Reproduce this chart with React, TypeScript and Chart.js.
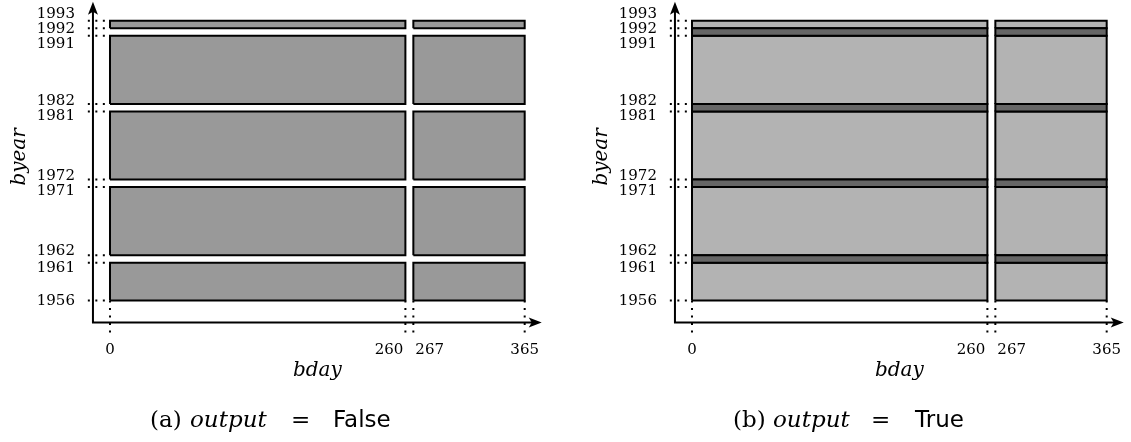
import React, { useEffect, useRef } from "react";
import { Chart, registerables } from "chart.js";

Chart.register(...registerables);

// ---------- data ----------
const xSegments: [number, number][] = [
  [0, 260],
  [267, 365],
];
const xTickValues = [0, 260, 267, 365];
const xTickLabels = ["0", "260", "267", "365"];
const yTickValues = [1956, 1961, 1962, 1971, 1972, 1981, 1982, 1991, 1992, 1993];
const yTickLabels = ["1956", "1961", "1962", "1971", "1972", "1981", "1982", "1991", "1992", "1993"];

// output = False: separate boxes
const bandsFalse: [number, number][] = [
  [1956, 1961],
  [1962, 1971],
  [1972, 1981],
  [1982, 1991],
  [1992, 1993],
];
// output = True: contiguous light boxes with dark strips in between
const bandsTrueLight: [number, number][] = [
  [1956, 1961],
  [1962, 1971],
  [1972, 1981],
  [1982, 1991],
  [1992, 1993],
];
const bandsTrueDark: [number, number][] = [
  [1961, 1962],
  [1971, 1972],
  [1981, 1982],
  [1991, 1992],
];

// ---------- presentation ----------
const yLabelNudge = [1, 5, -4, 4, -3, 5, -3, 8, 1, -7];
const xLabelAlign: CanvasTextAlign[] = ["center", "right", "left", "center"];
const xLabelShift = [0, -2, 2, 0];
const AXIS_ORIGIN_X = -15;
const AXIS_ORIGIN_Y = 1953.1;
const AXIS_END_X = 380;
const AXIS_END_Y = 1995.5;
const TICK_LINE_START_X = -19.5;
const TICK_LINE_END_Y = 1951.6;
const Y_TITLE_CENTER = 1975;

const rect = (x0: number, x1: number, y0: number, y1: number) => [
  { x: x0, y: y0 },
  { x: x1, y: y0 },
  { x: x1, y: y1 },
  { x: x0, y: y1 },
  { x: x0, y: y0 },
];

const boxDataset = (data: any[], color: string) => ({
  data,
  showLine: true,
  fill: "shape",
  backgroundColor: color,
  borderColor: "#000",
  borderWidth: 2,
  borderJoinStyle: "miter",
  pointRadius: 0,
  tension: 0,
});

const dotted = (data: any[]) => ({
  data,
  showLine: true,
  fill: false,
  borderColor: "#000",
  borderWidth: 2,
  borderDash: [2, 5.5],
  pointRadius: 0,
  tension: 0,
});

function buildDatasets(variant: "false" | "true") {
  const ds: any[] = [];
  if (variant === "false") {
    bandsFalse.forEach(([y0, y1]) =>
      xSegments.forEach(([x0, x1]) => ds.push(boxDataset(rect(x0, x1, y0, y1), "#999999")))
    );
  } else {
    bandsTrueDark.forEach(([y0, y1]) =>
      xSegments.forEach(([x0, x1]) => ds.push(boxDataset(rect(x0, x1, y0, y1), "#666666")))
    );
    bandsTrueLight.forEach(([y0, y1]) =>
      xSegments.forEach(([x0, x1]) => ds.push(boxDataset(rect(x0, x1, y0, y1), "#b3b3b3")))
    );
  }
  yTickValues.forEach((v) =>
    ds.push(
      dotted([
        { x: TICK_LINE_START_X, y: v },
        { x: 0, y: v },
      ])
    )
  );
  xTickValues.forEach((v) =>
    ds.push(
      dotted([
        { x: v, y: yTickValues[0] },
        { x: v, y: TICK_LINE_END_Y },
      ])
    )
  );
  return ds;
}

const axesPlugin = {
  id: "axesAndLabels",
  afterDatasetsDraw(chart: any) {
    const { ctx } = chart;
    const x = chart.scales.x;
    const y = chart.scales.y;
    const ox = x.getPixelForValue(AXIS_ORIGIN_X);
    const oy = y.getPixelForValue(AXIS_ORIGIN_Y);
    const ex = x.getPixelForValue(AXIS_END_X);
    const ey = y.getPixelForValue(AXIS_END_Y);
    ctx.save();
    ctx.strokeStyle = "#000";
    ctx.fillStyle = "#000";
    ctx.lineWidth = 2;
    ctx.setLineDash([]);
    ctx.beginPath();
    ctx.moveTo(ox, ey + 8);
    ctx.lineTo(ox, oy);
    ctx.lineTo(ex - 8, oy);
    ctx.stroke();
    // arrow heads
    ctx.beginPath();
    ctx.moveTo(ox, ey);
    ctx.lineTo(ox - 5, ey + 13);
    ctx.lineTo(ox, ey + 10);
    ctx.lineTo(ox + 5, ey + 13);
    ctx.closePath();
    ctx.fill();
    ctx.beginPath();
    ctx.moveTo(ex, oy);
    ctx.lineTo(ex - 13, oy - 5);
    ctx.lineTo(ex - 10, oy);
    ctx.lineTo(ex - 13, oy + 5);
    ctx.closePath();
    ctx.fill();

    // y tick labels
    ctx.font = "15px 'DejaVu Serif'";
    ctx.textAlign = "right";
    ctx.textBaseline = "middle";
    yTickValues.forEach((v, i) => {
      ctx.fillText(yTickLabels[i], ox - 18, y.getPixelForValue(v) + yLabelNudge[i]);
    });
    // x tick labels
    xTickValues.forEach((v, i) => {
      ctx.textAlign = xLabelAlign[i];
      ctx.fillText(xTickLabels[i], x.getPixelForValue(v) + xLabelShift[i], oy + 28);
    });
    // axis titles
    ctx.font = "italic 20px 'DejaVu Serif'";
    ctx.textAlign = "center";
    ctx.textBaseline = "alphabetic";
    const midX = (x.getPixelForValue(xTickValues[0]) + x.getPixelForValue(xTickValues[3])) / 2;
    ctx.fillText("bday", midX, oy + 53);
    ctx.translate(ox - 68, y.getPixelForValue(Y_TITLE_CENTER));
    ctx.rotate(-Math.PI / 2);
    ctx.fillText("byear", 0, 0);
    ctx.restore();
  },
};

function Panel({ variant, left }: { variant: "false" | "true"; left: number }) {
  const ref = useRef<HTMLCanvasElement | null>(null);
  useEffect(() => {
    if (!ref.current) return;
    const chart = new Chart(ref.current, {
      type: "scatter",
      data: { datasets: buildDatasets(variant) },
      options: {
        responsive: false,
        animation: false,
        devicePixelRatio: 1,
        events: [],
        layout: { padding: { left: 85, right: 5, top: 1, bottom: 96 } },
        plugins: { legend: { display: false }, tooltip: { enabled: false } },
        scales: {
          x: { type: "linear", min: -22, max: 382, display: false },
          y: { type: "linear", min: 1950, max: 1995.6, display: false },
        },
      } as any,
      plugins: [axesPlugin],
    });
    return () => chart.destroy();
  }, [variant]);
  return (
    <canvas
      ref={ref}
      width={549}
      height={442}
      style={{ position: "absolute", left, top: 0, width: 549, height: 442 }}
    />
  );
}

const capFont = (family: string, italic = false): React.CSSProperties => ({
  position: "absolute",
  top: 408,
  fontFamily: family,
  fontStyle: italic ? "italic" : "normal",
  fontSize: 23,
  lineHeight: "23px",
  whiteSpace: "nowrap",
  color: "#000",
});

export default function App() {
  return (
    <div
      style={{
        position: "absolute",
        left: 0,
        top: 0,
        width: 1131,
        height: 442,
        background: "#fff",
        overflow: "hidden",
      }}
    >
      <Panel variant="false" left={0} />
      <Panel variant="true" left={582} />
      <span style={{ ...capFont("'DejaVu Serif'"), left: 150 }}>(a)</span>
      <span style={{ ...capFont("'DejaVu Serif'", true), left: 190 }}>output</span>
      <span style={{ ...capFont("'DejaVu Serif'"), left: 291 }}>=</span>
      <span style={{ ...capFont("'DejaVu Sans'"), left: 333 }}>False</span>
      <span style={{ ...capFont("'DejaVu Serif'"), left: 733 }}>(b)</span>
      <span style={{ ...capFont("'DejaVu Serif'", true), left: 773 }}>output</span>
      <span style={{ ...capFont("'DejaVu Serif'"), left: 871 }}>=</span>
      <span style={{ ...capFont("'DejaVu Sans'"), left: 915 }}>True</span>
    </div>
  );
}
